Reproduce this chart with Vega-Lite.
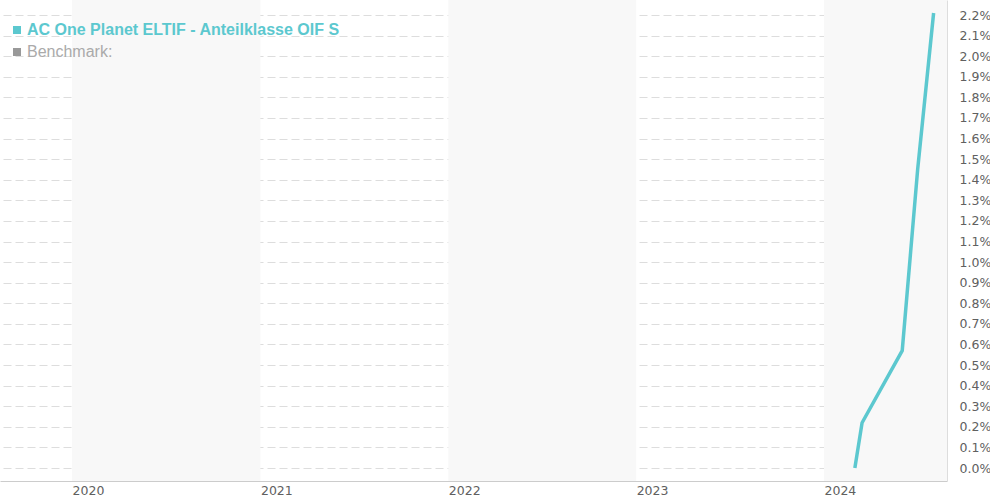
{
  "$schema": "https://vega.github.io/schema/vega-lite/v6.json",
  "width": 947,
  "height": 481,
  "autosize": {"type": "none"},
  "padding": {"left": 0, "top": 0, "right": 43, "bottom": 19},
  "background": "#ffffff",
  "config": {"view": {"stroke": null}, "font": "DejaVu Sans"},
  "datasets": {
    "bands": [
      {"start": "2020-01-01", "end": "2021-01-01"},
      {"start": "2022-01-01", "end": "2023-01-01"},
      {"start": "2024-01-01", "end": "2025-01-01"}
    ],
    "series": [
      {"date": "2024-03-01", "value": 0.0, "series": "AC One Planet ELTIF - Anteilklasse OIF S"},
      {"date": "2024-03-15", "value": 0.0022, "series": "AC One Planet ELTIF - Anteilklasse OIF S"},
      {"date": "2024-06-01", "value": 0.0057, "series": "AC One Planet ELTIF - Anteilklasse OIF S"},
      {"date": "2024-07-01", "value": 0.0145, "series": "AC One Planet ELTIF - Anteilklasse OIF S"},
      {"date": "2024-08-01", "value": 0.0221, "series": "AC One Planet ELTIF - Anteilklasse OIF S"}
    ]
  },
  "layer": [
    {
      "data": {"name": "bands"},
      "mark": {"type": "rect", "color": "#f8f8f8", "clip": true},
      "encoding": {
        "x": {"field": "start", "type": "temporal"},
        "x2": {"field": "end"}
      }
    },
    {
      "data": {"name": "series"},
      "mark": {"type": "line", "strokeWidth": 3.5, "clip": true},
      "encoding": {
        "x": {
          "field": "date",
          "type": "temporal",
          "title": null,
          "scale": {
            "type": "utc",
            "domain": [
              {"year": 2019, "month": 8, "date": 14, "utc": true},
              {"year": 2024, "month": 8, "date": 27, "utc": true}
            ]
          },
          "axis": {
            "values": [
              {"year": 2020, "month": 1, "date": 1, "utc": true},
              {"year": 2021, "month": 1, "date": 1, "utc": true},
              {"year": 2022, "month": 1, "date": 1, "utc": true},
              {"year": 2023, "month": 1, "date": 1, "utc": true},
              {"year": 2024, "month": 1, "date": 1, "utc": true}
            ],
            "format": "%Y",
            "formatType": "utc",
            "labelAlign": "left",
            "labelDx": 1,
            "labelPadding": 3,
            "labelFont": "DejaVu Sans",
            "labelFontSize": 12.5,
            "labelColor": "#606060",
            "ticks": false,
            "grid": false,
            "domainColor": "#cccccc",
            "labelOverlap": false
          }
        },
        "y": {
          "field": "value",
          "type": "quantitative",
          "title": null,
          "scale": {"domain": [-0.00063, 0.02273], "nice": false, "zero": false},
          "axis": {
            "orient": "right",
            "values": [0, 0.001, 0.002, 0.003, 0.004, 0.005, 0.006, 0.007, 0.008, 0.009, 0.01, 0.011, 0.012, 0.013, 0.014, 0.015, 0.016, 0.017, 0.018, 0.019, 0.02, 0.021, 0.022],
            "format": ".1%",
            "labelFont": "DejaVu Sans",
            "labelFontSize": 12.5,
            "labelColor": "#606060",
            "labelPadding": 12,
            "ticks": false,
            "domain": true,
            "domainColor": "#dddddd",
            "grid": true,
            "gridColor": "#dddddd",
            "gridDash": [8, 4],
            "labelOverlap": false
          }
        },
        "color": {
          "field": "series",
          "type": "nominal",
          "scale": {
            "domain": ["AC One Planet ELTIF - Anteilklasse OIF S", "Benchmark:"],
            "range": ["#5cc8cf", "#999999"]
          },
          "legend": {
            "orient": "none",
            "legendX": 9,
            "legendY": 22,
            "title": null,
            "symbolType": "square",
            "symbolSize": 64,
            "labelFont": "Liberation Sans",
            "labelFontSize": 16,
            "labelOffset": 2,
            "rowPadding": 6,
            "padding": 0,
            "labelLimit": 500,
            "encode": {
              "symbols": {
                "update": {
                  "fill": {"signal": "datum.index === 0 ? '#5cc8cf' : '#999999'"},
                  "fillOpacity": {"value": 1},
                  "opacity": {"value": 1},
                  "strokeWidth": {"value": 0}
                }
              },
              "labels": {
                "update": {
                  "fill": {"signal": "datum.index === 0 ? '#5cc8cf' : '#aaaaaa'"},
                  "fontWeight": {"signal": "datum.index === 0 ? 'bold' : 'normal'"}
                }
              }
            }
          }
        }
      }
    }
  ]
}
